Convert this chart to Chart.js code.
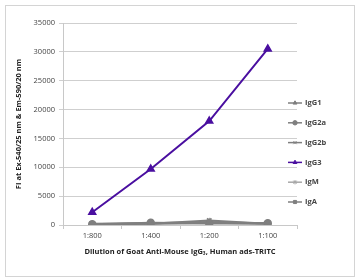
<!DOCTYPE html>
<html><head><meta charset="utf-8">
<script src="https://cdn.jsdelivr.net/npm/chart.js@4"></script>
<style>html,body{margin:0;padding:0;background:#fff}#wrap{width:360px;height:279px;position:relative}</style>
</head><body><div id="wrap"><canvas id="c" width="360" height="279"></canvas></div>
<script>
const categories = ["1:800", "1:400", "1:200", "1:100"];
const seriesNames = ["IgG1", "IgG2a", "IgG2b", "IgG3", "IgM", "IgA"];
const igg1 = [100, 300, 500, 250];
const igg2a = [150, 400, 300, 300];
const igg2b = [100, 200, 800, 200];
const igg3 = [2200, 9700, 18000, 30500];
const igm = [50, 150, 300, 150];
const iga = [200, 300, 400, 300];
const yTicks = [0, 5000, 10000, 15000, 20000, 25000, 30000, 35000];

const gray = "#7f7f7f";
const purple = "#4a0fa0";
const styles = [
  {c: gray, p: "triangle", r: 3},
  {c: gray, p: "circle", r: 3.5},
  {c: gray, p: "crossRot", r: 3},
  {c: purple, p: "triangle", r: 4},
  {c: "#a8a8a8", p: "star", r: 3.5},
  {c: gray, p: "rect", r: 3}
];
const values = [igg1, igg2a, igg2b, igg3, igm, iga];
const font = "'Open Sans', 'Liberation Sans', sans-serif";

const datasets = seriesNames.map((n, i) => ({
  label: n, data: values[i],
  borderColor: styles[i].c, backgroundColor: styles[i].c,
  pointStyle: styles[i].p, pointRadius: styles[i].r, pointBorderWidth: 1.5,
  borderWidth: 2, tension: 0, order: i === 3 ? 0 : 1
}));

const frame = {
  id: "frame",
  beforeDraw(chart) {
    const ctx = chart.ctx;
    ctx.save();
    ctx.fillStyle = "#fff"; ctx.fillRect(0, 0, 360, 279);
    ctx.strokeStyle = "#d4d4d4"; ctx.lineWidth = 1;
    ctx.strokeRect(5.5, 5.5, 349, 271);
    ctx.restore();
  },
  afterDraw(chart) {
    const ctx = chart.ctx;
    ctx.save();
    seriesNames.forEach((n, i) => {
      const y = 103 + i * 19.8;
      ctx.strokeStyle = styles[i].c; ctx.lineWidth = 1.5;
      ctx.beginPath(); ctx.moveTo(288, y); ctx.lineTo(302, y); ctx.stroke();
      ctx.fillStyle = styles[i].c; ctx.strokeStyle = styles[i].c; ctx.lineWidth = 1;
      Chart.helpers.drawPoint(ctx, {pointStyle: styles[i].p, radius: 2.2, borderWidth: 1}, 295, y);
      ctx.fillStyle = "#444"; ctx.font = "bold 7.5px " + font;
      ctx.textBaseline = "middle"; ctx.textAlign = "left";
      ctx.fillText(n, 305, y);
    });
    ctx.restore();
  }
};

new Chart(document.getElementById("c"), {
  type: "line",
  data: {labels: categories, datasets},
  options: {
    responsive: false, animation: false, devicePixelRatio: 1,
    layout: {padding: {left: 14, right: 63, top: 23, bottom: 23}},
    plugins: {legend: {display: false}, tooltip: {enabled: false}},
    scales: {
      x: {
        offset: true,
        grid: {display: true, drawOnChartArea: false, offset: true, tickLength: 4, color: "#c8c8c8"},
        border: {color: "#c8c8c8"},
        ticks: {color: "#444", font: {family: font, size: 7.5}, padding: 2},
        title: {display: true, text: "Dilution of Goat Anti-Mouse IgG\u2083, Human ads-TRITC", color: "#222", font: {family: font, size: 7.5, weight: "bold"}, padding: {top: 2, bottom: 0}},
        afterFit(s) { s.height = 31; }
      },
      y: {
        min: 0, max: 35000,
        afterBuildTicks(s) { s.ticks = yTicks.map(v => ({value: v})); },
        grid: {color: "#cfcfcf", tickLength: 4, drawTicks: true},
        border: {color: "#c8c8c8"},
        ticks: {color: "#444", font: {family: font, size: 7.5}, padding: 4, callback: v => String(v)},
        title: {display: true, text: "FI at Ex-540/25 nm & Em-590/20 nm", color: "#222", font: {family: font, size: 7.5, weight: "bold"}, padding: {top: 0, bottom: 4}},
        afterFit(s) { s.width = 49; }
      }
    }
  },
  plugins: [frame]
});
</script></body></html>
